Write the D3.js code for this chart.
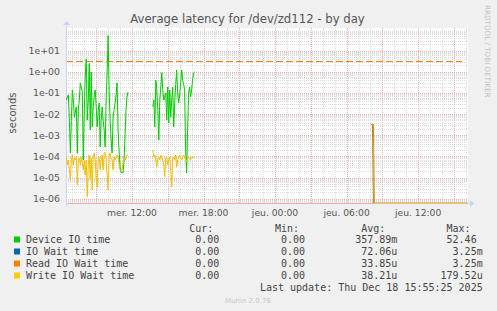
<!DOCTYPE html>
<html>
<head>
<meta charset="utf-8">
<script src="https://cdn.jsdelivr.net/npm/d3@7"></script>
<style>
  html, body { margin: 0; padding: 0; background: #f0f0f0; }
  svg text { white-space: pre; }
</style>
</head>
<body>
<div id="chart"></div>
<script>
// Munin "Average latency for /dev/zd112 - by day"

const sampleMinutes = 5;
const seg1Start = new Date(2025, 11, 17, 6, 30);
const seg2Start = new Date(2025, 11, 17, 13, 45);
const spikeStart = new Date(2025, 11, 18, 8, 5);
const tailEnd = new Date(2025, 11, 18, 16, 10);

const deviceSeg1 = [0.047, 0.065, 0.08, 0.0052, 0.000145, 0.005, 0.14, 0.047, 0.0072, 0.012, 0.022, 0.00014, 0.019, 0.047, 0.3, 0.19, 0.11, 0.000068, 0.015, 0.7, 4.1, 0.0052, 0.047, 2.5, 0.0018, 0.98, 0.0025, 0.022, 0.08, 0.14, 0.022, 0.0025, 0.015, 0.034, 0.00028, 0.005, 0.022, 0.0052, 0.0018, 0.00028, 0.047, 0.9, 52.46, 0.14, 0.0052, 0.0006, 0.000145, 0.0072, 0.015, 0.034, 0.08, 0.3, 0.0018, 0.0002, 0.000032, 0.000018, 0.0000165, 0.0000165, 0.000068, 0.00083, 0.015, 0.065, 0.11];
const writeSeg1 = [9.4e-5, 4e-5, 6.8e-5, 2.3e-5, 7.6e-6, 6.8e-5, 1.17e-4, 4e-5, 8.4e-5, 6.8e-5, 9.4e-5, 4.5e-6, 6.8e-5, 8.4e-5, 4e-5, 9.4e-5, 4.9e-5, 2.3e-5, 6.8e-5, 1.3e-5, 6.8e-5, 1.2e-6, 4e-5, 1.17e-4, 7.6e-6, 8.4e-5, 2.6e-6, 9.4e-5, 1.45e-4, 6.8e-5, 7.6e-6, 3.6e-6, 8.4e-5, 9.4e-5, 2.3e-5, 6.8e-5, 1.17e-4, 2.3e-5, 1.45e-4, 1.6e-4, 6.8e-5, 1.3e-5, 2.6e-6, 9.4e-5, 1.45e-4, 8.4e-5, 6.8e-5, 2.3e-5, 9.4e-5, 6.8e-5, 9.4e-5, 1.17e-4, 8.4e-5, 4e-5, 2.3e-5, 2.3e-5, 2.3e-5, 4.9e-5, 8.4e-5, 6.8e-5, 9.4e-5, 1.17e-4, 1.17e-4];
const deviceSeg2 = [0.022, 0.047, 0.0025, 0.4, 0.14, 0.015, 0.0006, 0.047, 0.19, 0.9, 0.14, 0.047, 0.065, 0.1, 0.0052, 0.19, 0.0038, 0.14, 0.0072, 0.047, 0.19, 0.0025, 0.034, 0.25, 1.2, 0.1, 0.034, 0.08, 0.3, 1.2, 0.4, 0.25, 0.14, 0.0002, 0.0000165, 0.0018, 0.1, 0.19, 0.065, 0.14, 0.4, 0.9, 0.98];
const writeSeg2 = [2e-4, 9.4e-5, 1.17e-4, 6.8e-5, 3.2e-5, 8.4e-5, 9.4e-5, 6.8e-5, 1.17e-4, 8.4e-5, 6.8e-5, 4e-5, 1.07e-5, 8.4e-5, 9.4e-5, 4e-5, 6.8e-5, 9.4e-5, 2.3e-5, 3.6e-6, 8.4e-5, 9.4e-5, 6.8e-5, 1.17e-4, 3.2e-5, 6.8e-5, 9.4e-5, 1.17e-4, 8.4e-5, 6.8e-5, 9.4e-5, 1.17e-4, 9.4e-5, 6.8e-5, 5.8e-5, 8.4e-5, 9.4e-5, 8.4e-5, 6.8e-5, 9.4e-5, 8.4e-5, 9.4e-5, 9.4e-5];
const ioWaitSpike = [3.25e-3, 3.25e-3, 0];
const readSpike = [3.25e-3, 3.25e-3, 3.25e-3, 0];
const thresholdValue = 3.25;

const yTickExponents = [1, 0, -1, -2, -3, -4, -5, -6];
const dayNames = ["dim.", "lun.", "mar.", "mer.", "jeu.", "ven.", "sam."];

const legendNames = ["Device IO time", "IO Wait time", "Read IO Wait time", "Write IO Wait time"];
const legendColors = ["#00cc00", "#0066b3", "#ff8000", "#ffcc00"];
const legendCur = ["0.00 ", "0.00 ", "0.00 ", "0.00 "];
const legendMin = ["0.00 ", "0.00 ", "0.00 ", "0.00 "];
const legendAvg = ["357.89m", "72.06u", "33.85u", "38.21u"];
const legendMax = ["52.46 ", "3.25m", "3.25m", "179.52u"];

const width = 497, height = 311;
const plot = { left: 66, right: 468, top: 28, bottom: 203 };

function toSeries(start, values) {
    return values.map((v, i) => ({ t: new Date(start.getTime() + i * sampleMinutes * 60000), v }));
}

const svg = d3.select("#chart").append("svg")
    .attr("width", width)
    .attr("height", height)
    .style("display", "block");

svg.append("rect").attr("width", width).attr("height", height).attr("fill", "#f0f0f0");

const x = d3.scaleTime()
    .domain([new Date(2025, 11, 17, 6, 28), new Date(2025, 11, 18, 16, 11)])
    .range([plot.left, plot.right]);

const y = d3.scaleLog()
    .domain([Math.pow(10, -6.2034), Math.pow(10, 2.0736)])
    .range([plot.bottom, plot.top])
    .clamp(true);

const yMin = y.domain()[0];
const yPos = v => y(v > 0 ? v : yMin);

svg.append("rect")
    .attr("x", plot.left).attr("y", plot.top)
    .attr("width", plot.right - plot.left).attr("height", plot.bottom - plot.top)
    .attr("fill", "#ffffff");

const grid = svg.append("g").attr("shape-rendering", "crispEdges");

// minor horizontal grid
const minorY = [];
for (let e = -7; e <= 2; e++) {
    for (let k = 2; k <= 9; k++) {
        const v = k * Math.pow(10, e);
        if (v > y.domain()[0] && v < y.domain()[1]) minorY.push(v);
    }
}
grid.selectAll("line.minor-y").data(minorY).join("line")
    .attr("x1", plot.left).attr("x2", plot.right)
    .attr("y1", d => Math.round(y(d)) + 0.5).attr("y2", d => Math.round(y(d)) + 0.5)
    .attr("stroke", "#dcdcdc").attr("stroke-dasharray", "1,1");

// minor vertical grid (hourly)
const hours = d3.timeHour.every(1).range(x.domain()[0], x.domain()[1]);
grid.selectAll("line.minor-x").data(hours.filter(d => d.getHours() % 3 !== 0)).join("line")
    .attr("x1", d => Math.round(x(d)) + 0.5).attr("x2", d => Math.round(x(d)) + 0.5)
    .attr("y1", plot.top).attr("y2", plot.bottom)
    .attr("stroke", "#dcdcdc").attr("stroke-dasharray", "1,1");

// major grid
const majorY = yTickExponents.map(e => Math.pow(10, e));
grid.selectAll("line.major-y").data(majorY).join("line")
    .attr("x1", plot.left).attr("x2", plot.right)
    .attr("y1", d => Math.round(y(d)) + 0.5).attr("y2", d => Math.round(y(d)) + 0.5)
    .attr("stroke", "#eeb0b0").attr("stroke-dasharray", "1,1");

grid.selectAll("line.major-x").data(hours.filter(d => d.getHours() % 3 === 0)).join("line")
    .attr("x1", d => Math.round(x(d)) + 0.5).attr("x2", d => Math.round(x(d)) + 0.5)
    .attr("y1", plot.top).attr("y2", plot.bottom)
    .attr("stroke", "#eeb0b0").attr("stroke-dasharray", "1,1");

// threshold dashed line
svg.append("line")
    .attr("x1", plot.left).attr("x2", plot.right - 6)
    .attr("y1", Math.round(y(thresholdValue)) + 0.5).attr("y2", Math.round(y(thresholdValue)) + 0.5)
    .attr("stroke", "#ff8000").attr("stroke-dasharray", "7,3");

// axis lines
svg.append("line")
    .attr("x1", plot.left).attr("x2", x(spikeStart) + 3)
    .attr("y1", plot.bottom + 0.5).attr("y2", plot.bottom + 0.5)
    .attr("stroke", "#e8b4a4");
svg.append("line")
    .attr("x1", plot.right).attr("x2", plot.right + 3)
    .attr("y1", plot.bottom + 0.5).attr("y2", plot.bottom + 0.5)
    .attr("stroke", "#c8d2fa");
svg.append("path")
    .attr("d", `M${plot.right + 2},${plot.bottom - 3}L${plot.right + 6},${plot.bottom + 0.5}L${plot.right + 2},${plot.bottom + 4}Z`)
    .attr("fill", "#c8d2fa");
svg.append("line")
    .attr("x1", plot.left + 0.5).attr("x2", plot.left + 0.5)
    .attr("y1", plot.bottom + 3).attr("y2", plot.top - 4)
    .attr("stroke", "#c8d2fa");
svg.append("path")
    .attr("d", `M${plot.left - 3},${plot.top - 3}L${plot.left + 0.5},${plot.top - 7}L${plot.left + 4},${plot.top - 3}Z`)
    .attr("fill", "#c8d2fa");

// data lines
const line = d3.line().x(d => x(d.t)).y(d => yPos(d.v));
const dataLayer = svg.append("g").attr("fill", "none").attr("stroke-width", 1);

const tailStartRead = new Date(spikeStart.getTime() + (readSpike.length - 1) * sampleMinutes * 60000);
const readSeries = toSeries(spikeStart, readSpike).concat([{ t: tailEnd, v: 0 }]);
const writeTail = [{ t: tailStartRead, v: 0 }, { t: tailEnd, v: 0 }];

[toSeries(seg1Start, deviceSeg1), toSeries(seg2Start, deviceSeg2)].forEach(s => {
    dataLayer.append("path").attr("d", line(s)).attr("stroke", legendColors[0]);
});
dataLayer.append("path").attr("d", line(toSeries(spikeStart, ioWaitSpike))).attr("stroke", "#7a9a40");
dataLayer.append("path").attr("d", line(readSeries)).attr("stroke", legendColors[2]);
[toSeries(seg1Start, writeSeg1), toSeries(seg2Start, writeSeg2)].forEach(s => {
    dataLayer.append("path").attr("d", line(s)).attr("stroke", "#f2c000");
});
dataLayer.append("path").attr("d", line(writeTail)).attr("stroke", "#d8c880");

// y tick labels
const labelColor = "#555555";
svg.selectAll("text.ytick").data(majorY).join("text")
    .attr("x", 60).attr("y", d => y(d) + 3.4)
    .attr("text-anchor", "end")
    .attr("font-family", "DejaVu Sans").attr("font-size", "9.4px")
    .attr("fill", labelColor)
    .text(d => d3.format(".0e")(d).replace(/e([+-])(\d)$/, "e$10$2"));

// x tick labels
const labelHours = hours.filter(d => d.getHours() % 6 === 0);
svg.selectAll("text.xtick").data(labelHours).join("text")
    .attr("x", d => x(d)).attr("y", 215.5)
    .attr("text-anchor", "middle")
    .attr("font-family", "DejaVu Sans").attr("font-size", "9.2px")
    .attr("fill", labelColor)
    .text(d => `${dayNames[d.getDay()]} ${d3.timeFormat("%H:%M")(d)}`);

// title
svg.append("text")
    .attr("x", 247.5).attr("y", 22.5)
    .attr("text-anchor", "middle")
    .attr("font-family", "DejaVu Sans").attr("font-size", "11.7px")
    .attr("fill", labelColor)
    .text("Average latency for /dev/zd112 - by day");

svg.append("text")
    .attr("transform", "translate(15.5,113) rotate(-90)")
    .attr("text-anchor", "middle")
    .attr("font-family", "DejaVu Sans").attr("font-size", "10px")
    .attr("fill", labelColor)
    .text("seconds");

svg.append("text")
    .attr("transform", "translate(484.5,5) rotate(90)")
    .attr("font-family", "DejaVu Sans").attr("font-size", "7.2px")
    .attr("fill", "#c4c4c4")
    .text("RRDTOOL / TOBI OETIKER");

// legend
const mono = "DejaVu Sans Mono";
const colEnds = [225.3, 311, 397.3, 482.7];
const headers = ["Cur:  ", "Min:  ", "Avg:  ", "Max:  "];
const legend = svg.append("g")
    .attr("font-family", mono).attr("font-size", "10px").attr("fill", "#444444");

legend.selectAll("text.hdr").data(headers).join("text")
    .attr("x", (d, i) => colEnds[i]).attr("y", 232)
    .attr("text-anchor", "end")
    .text(d => d);

const rows = legendNames.map((name, i) => ({
    name, color: legendColors[i],
    vals: [legendCur[i], legendMin[i], legendAvg[i], legendMax[i]]
}));

const rowG = legend.selectAll("g.row").data(rows).join("g")
    .attr("transform", (d, i) => `translate(0,${243 + i * 12})`);
rowG.append("rect")
    .attr("x", 14).attr("y", -6.5).attr("width", 6).attr("height", 6)
    .attr("fill", d => d.color);
rowG.append("text").attr("x", 26).attr("y", 0).text(d => d.name);
rowG.each(function (d) {
    d3.select(this).selectAll("text.val").data(d.vals).join("text")
        .attr("x", (v, i) => colEnds[i]).attr("y", 0)
        .attr("text-anchor", "end")
        .text(v => v);
});

legend.append("text")
    .attr("x", 482.7).attr("y", 291)
    .attr("text-anchor", "end")
    .text("Last update: Thu Dec 18 15:55:25 2025");

svg.append("text")
    .attr("x", 248).attr("y", 302.5)
    .attr("text-anchor", "middle")
    .attr("font-family", "DejaVu Sans").attr("font-size", "7px")
    .attr("fill", "#c8c8c8")
    .text("Munin 2.0.76");
</script>
</body>
</html>
